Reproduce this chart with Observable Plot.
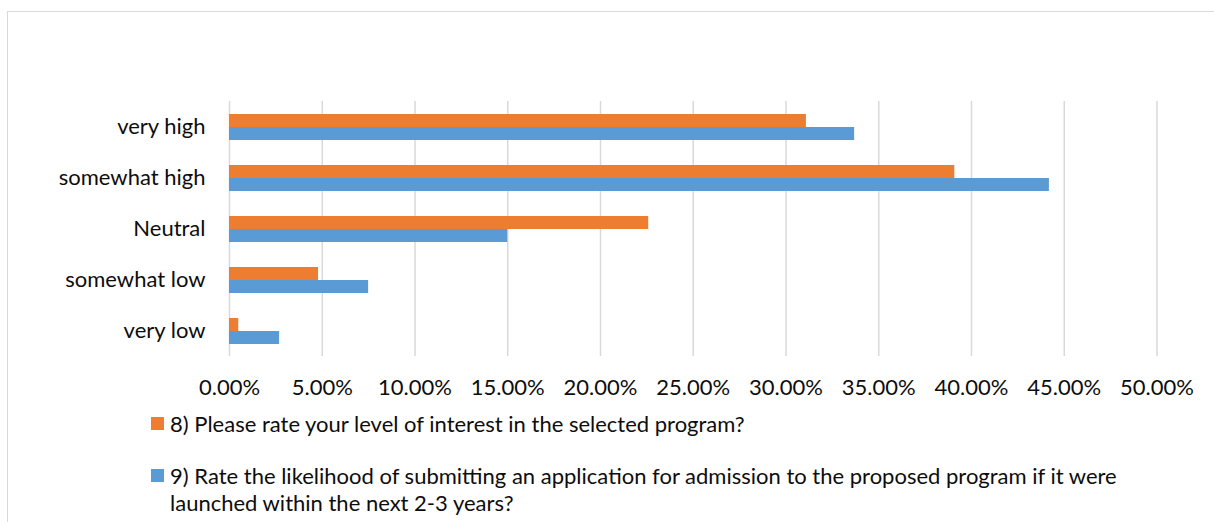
<!DOCTYPE html>
<html>
<head>
<meta charset="utf-8">
<script src="https://cdn.jsdelivr.net/npm/d3@7"></script>
<script src="https://cdn.jsdelivr.net/npm/@observablehq/plot@0.6"></script>
<style>
  html, body { margin: 0; padding: 0; background: #fff; }
  #wrap { position: relative; width: 1214px; height: 522px; overflow: hidden; background: #fff; font-family: Lato, "Open Sans", sans-serif; color: #0d0d0d; }
  #frame { position: absolute; left: 7px; top: 11px; width: 1300px; height: 700px; border: 1.5px solid #d9d9d9; box-sizing: border-box; }
  #chart { position: absolute; left: 0; top: 0; }
  .leg { position: absolute; left: 151px; font-size: 22px; line-height: 27px; }
  .sw { position: absolute; left: 0; width: 13px; height: 13px; }
  .lt { position: absolute; left: 19px; top: 0; white-space: nowrap; }
</style>
</head>
<body>
<div id="wrap">
  <div id="frame"></div>
  <div id="chart"></div>
  <div id="legend"></div>
</div>
<script>
const categories = ["very high", "somewhat high", "Neutral", "somewhat low", "very low"];
const seriesNames = [
  "8) Please rate your level of interest in the selected program?",
  "9) Rate the likelihood of submitting an application for admission to the proposed program if it were launched within the next 2-3 years?"
];
const seriesLines = [
  ["8) Please rate your level of interest in the selected program?"],
  ["9) Rate the likelihood of submitting an application for admission to the proposed program if it were", "launched within the next 2-3 years?"]
];
const q8Values = [0.311, 0.391, 0.226, 0.048, 0.005];
const q9Values = [0.337, 0.442, 0.150, 0.075, 0.027];
const xTicks = [0, 0.05, 0.10, 0.15, 0.20, 0.25, 0.30, 0.35, 0.40, 0.45, 0.50];
const colors = ["#ED7D31", "#5B9BD5"];

const data = [];
categories.forEach((c, i) => {
  data.push({category: c, series: seriesNames[0], value: q8Values[i]});
  data.push({category: c, series: seriesNames[1], value: q9Values[i]});
});

const chart = Plot.plot({
  width: 1214,
  height: 405,
  marginLeft: 229,
  marginRight: 57.5,
  marginTop: 100,
  marginBottom: 48,
  style: {fontFamily: "Lato, 'Open Sans', sans-serif", fontSize: "22px", color: "#0d0d0d", background: "transparent", overflow: "visible"},
  x: {domain: [0, 0.5], ticks: xTicks, tickFormat: d3.format(".2%"), tickSize: 0, tickPadding: 23, label: null},
  fy: {domain: categories, padding: 0, axis: "left", tickSize: 0, tickPadding: 24, label: null},
  y: {domain: seriesNames, paddingInner: 0, paddingOuter: 0.93, axis: null},
  color: {domain: seriesNames, range: colors},
  marks: [
    Plot.ruleX(xTicks, {stroke: "#d9d9d9", strokeWidth: 1.5}),
    Plot.barX(data, {x: "value", y: "series", fy: "category", fill: "series"})
  ]
});
document.getElementById("chart").appendChild(chart);

const legend = document.getElementById("legend");
const tops = [409.5, 461.5];
seriesNames.forEach((s, i) => {
  const item = document.createElement("div");
  item.className = "leg";
  item.style.top = tops[i] + "px";
  const sw = document.createElement("div");
  sw.className = "sw";
  sw.style.background = colors[i];
  sw.style.top = "7px";
  item.appendChild(sw);
  const t = document.createElement("div");
  t.className = "lt";
  t.innerHTML = seriesLines[i].join("<br>");
  item.appendChild(t);
  legend.appendChild(item);
});
</script>
</body>
</html>
